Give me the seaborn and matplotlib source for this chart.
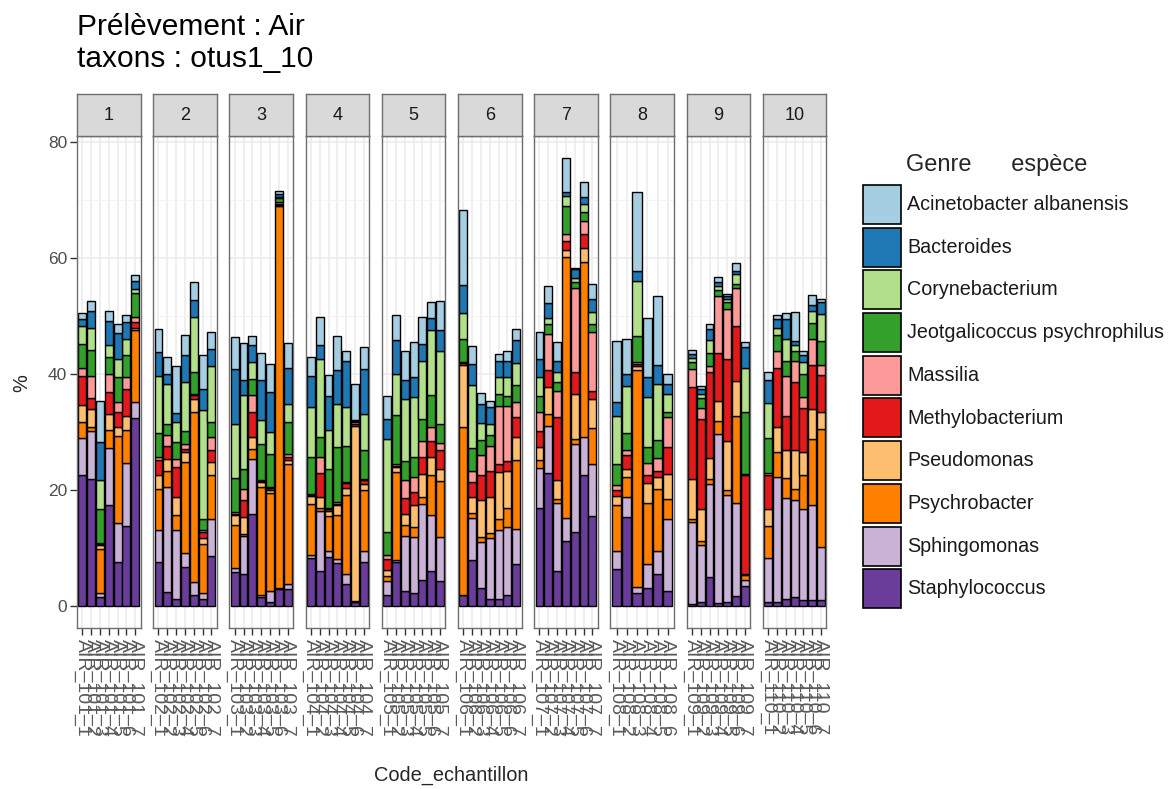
import numpy as np
import pandas as pd
import matplotlib
matplotlib.use("Agg")
import matplotlib.pyplot as plt
from matplotlib.patches import Rectangle
import seaborn as sns

# ---------------- data ----------------
taxa = ["Acinetobacter albanensis", "Bacteroides", "Corynebacterium",
        "Jeotgalicoccus psychrophilus", "Massilia", "Methylobacterium",
        "Pseudomonas", "Psychrobacter", "Sphingomonas", "Staphylococcus"]
colors = ["#A6CEE3", "#1F78B4", "#B2DF8A", "#33A02C", "#FB9A99",
          "#E31A1C", "#FDBF6F", "#FF7F00", "#CAB2D6", "#6A3D9A"]

panels = ["1", "2", "3", "4", "5", "6", "7", "8", "9", "10"]
bars_per_panel = [7, 7, 7, 7, 7, 7, 7, 6, 7, 7]

staphylococcus = [22.6, 21.8, 1.5, 17.3, 7.5, 13.7, 32.4,
                  7.5, 2.4, 1.2, 6.7, 1.8, 1.1, 8.5,
                  5.8, 5.5, 15.9, 1.5, 0.7, 2.8, 2.9,
                  8.2, 5.9, 8.4, 7.4, 3.8, 0.6, 7.5,
                  1.8, 7.5, 2.6, 2.2, 4.5, 5.9, 4.3,
                  1.8, 7.8, 3.0, 1.2, 1.1, 1.9, 7.2,
                  16.8, 22.9, 5.9, 11.1, 12.7, 22.6, 15.5,
                  6.3, 15.3, 2.2, 3.0, 5.5, 2.6,
                  0.3, 0.6, 4.9, 0.5, 0.7, 1.6, 3.4,
                  0.7, 0.6, 1.2, 1.5, 0.9, 0.9, 0.9]
sphingomonas = [6.3, 8.4, 0.6, 9.9, 6.8, 10.9, 2.7,
                5.5, 18.1, 11.8, 2.3, 2.3, 1.0, 6.5,
                0.7, 6.6, 9.4, 0.4, 1.9, 0.2, 0.9,
                0.6, 10.4, 1.0, 0.7, 1.6, 0.1, 1.9,
                2.4, 0.3, 9.5, 9.6, 13.1, 9.7, 7.5,
                0.1, 7.4, 8.0, 10.5, 11.9, 11.7, 6.1,
                6.9, 8.1, 11.8, 4.0, 15.2, 6.5, 9.0,
                3.1, 3.4, 1.1, 4.2, 4.0, 12.4,
                14.2, 9.8, 16.1, 29.2, 18.4, 16.2, 1.0,
                7.5, 21.6, 17.4, 16.7, 15.8, 16.5, 9.2]
psychrobacter = [2.8, 0.6, 7.6, 3.1, 15.0, 5.7, 12.4,
                 7.1, 2.8, 2.6, 15.8, 29.3, 8.6, 7.6,
                 7.5, 0.3, 1.8, 18.6, 16.9, 65.9, 20.7,
                 8.8, 0.5, 6.1, 7.6, 13.7, 0.1, 10.6,
                 0.9, 15.2, 1.9, 1.8, 1.1, 6.9, 9.7,
                 29.0, 0.8, 0.8, 0.8, 1.9, 3.3, 11.9,
                 1.4, 2.0, 0.7, 45.0, 0.8, 30.2, 6.1,
                 7.9, 3.5, 37.3, 10.6, 10.7, 3.4,
                 0.4, 0.7, 0.8, 2.1, 0.9, 14.9, 0.9,
                 5.5, 4.3, 3.4, 1.9, 5.8, 11.4, 20.4]
pseudomonas = [2.9, 3.1, 0.7, 2.8, 1.5, 2.4, 0.4,
               2.4, 2.0, 3.1, 1.8, 2.2, 1.0, 2.2,
               1.6, 2.9, 2.0, 0.8, 0.4, 0.3, 0.6,
               1.3, 1.9, 0.9, 1.6, 1.2, 30.2, 1.0,
               1.0, 0.9, 1.9, 3.7, 4.1, 3.1, 2.1,
               10.7, 2.8, 6.5, 6.2, 8.1, 6.4, 3.9,
               2.3, 4.7, 3.2, 1.2, 7.9, 2.5, 5.0,
               1.7, 1.3, 0.7, 3.4, 2.0, 4.4,
               7.0, 5.6, 3.7, 3.6, 8.5, 6.0, 0.2,
               2.9, 4.4, 4.8, 6.7, 4.0, 5.2, 3.0]
methylobacterium = [5.0, 1.9, 0.3, 3.7, 2.6, 4.7, 1.1,
                    2.6, 2.2, 5.2, 0.4, 0.7, 1.0, 2.0,
                    0.3, 2.9, 4.3, 0.2, 0.4, 0.2, 0.5,
                    0.2, 4.2, 0.3, 0.3, 0.8, 0.3, 0.6,
                    2.0, 0.2, 2.7, 2.3, 2.8, 2.9, 3.2,
                    0.2, 2.5, 4.2, 4.6, 1.5, 1.6, 3.4,
                    2.8, 2.9, 10.9, 1.7, 3.7, 2.3, 1.5,
                    0.9, 2.5, 0.4, 1.4, 1.1, 4.6,
                    15.8, 15.5, 14.9, 8.2, 14.0, 9.6, 17.0,
                    5.9, 10.1, 6.0, 11.8, 7.6, 7.6, 6.3]
massilia = [1.4, 3.8, 0.1, 3.2, 1.7, 2.0, 0.8,
            0.5, 2.0, 1.4, 0.9, 0.3, 0.4, 2.3,
            0.3, 2.0, 2.9, 0.1, 0.2, 0.2, 0.6,
            0.1, 2.8, 0.2, 0.3, 0.3, 0.4, 0.3,
            0.7, 0.3, 3.1, 2.6, 2.9, 2.3, 1.3,
            0.2, 2.0, 3.5, 4.3, 10.0, 9.6, 2.6,
            3.2, 6.3, 4.6, 1.1, 14.6, 2.3, 10.1,
            1.0, 0.8, 0.3, 2.0, 2.2, 5.1,
            3.2, 1.9, 0.9, 9.9, 8.7, 6.5, 0.2,
            0.4, 2.9, 6.8, 3.7, 1.9, 4.5, 1.8]
jeotgalicoccus = [4.2, 4.6, 5.8, 2.9, 4.3, 3.8, 4.1,
                  4.2, 1.9, 3.0, 2.3, 3.7, 1.9, 2.6,
                  5.8, 3.3, 2.8, 6.3, 5.7, 0.7, 5.5,
                  6.4, 3.4, 6.7, 9.5, 6.1, 0.1, 5.0,
                  3.9, 8.5, 3.2, 3.4, 3.7, 5.5, 3.3,
                  4.1, 3.9, 2.6, 1.8, 2.1, 1.6, 3.0,
                  2.7, 1.7, 1.5, 4.9, 1.0, 1.5, 1.4,
                  3.6, 3.0, 4.6, 2.8, 3.1, 1.0,
                  1.1, 1.7, 2.3, 0.9, 1.2, 0.7, 10.8,
                  6.0, 2.8, 2.7, 1.7, 4.0, 2.6, 4.1]
corynebacterium = [3.1, 3.7, 5.0, 2.0, 3.2, 2.8, 0.8,
                   9.9, 6.8, 3.4, 8.4, 9.5, 18.8, 9.6,
                   9.4, 12.8, 2.9, 4.1, 3.7, 0.3, 3.1,
                   8.6, 13.5, 6.7, 7.4, 6.8, 0.1, 6.1,
                   16.0, 7.0, 10.8, 10.4, 10.1, 11.2, 12.5,
                   4.4, 10.9, 2.9, 1.9, 2.8, 3.3, 3.7,
                   3.3, 1.0, 1.8, 1.7, 0.6, 1.4, 2.0,
                   8.3, 8.1, 9.4, 8.6, 9.7, 3.1,
                   0.7, 0.8, 2.3, 0.8, 0.5, 1.7, 7.5,
                   6.1, 1.2, 3.8, 1.0, 2.0, 2.1, 4.6]
bacteroides = [1.2, 3.0, 6.6, 4.3, 4.5, 3.0, 1.4,
               4.0, 1.8, 1.6, 4.6, 3.0, 3.6, 3.0,
               9.5, 2.6, 2.9, 7.0, 6.9, 0.5, 6.2,
               5.5, 2.4, 5.8, 5.8, 8.0, 0.1, 7.8,
               3.5, 5.9, 3.3, 3.4, 2.9, 2.2, 3.7,
               4.9, 3.6, 3.3, 3.0, 2.9, 2.9, 4.1,
               3.2, 2.6, 1.8, 0.7, 1.6, 1.2, 2.3,
               2.4, 2.1, 1.7, 3.4, 3.3, 1.7,
               0.7, 0.8, 1.9, 0.7, 0.6, 0.6, 3.6,
               3.9, 1.5, 3.4, 0.6, 1.2, 1.1, 2.1]
acinetobacter = [1.0, 1.6, 7.1, 1.6, 1.5, 1.1, 1.0,
                 4.1, 2.9, 8.0, 3.5, 3.0, 5.8, 2.9,
                 5.4, 6.4, 1.6, 4.6, 4.9, 0.4, 4.3,
                 3.3, 4.9, 3.7, 5.9, 1.6, 6.2, 3.9,
                 3.9, 4.3, 5.0, 6.1, 4.7, 2.7, 4.9,
                 12.9, 3.1, 1.9, 1.1, 1.1, 1.6, 1.9,
                 4.6, 3.0, 3.3, 5.8, 0.2, 2.7, 2.6,
                 10.4, 6.0, 13.7, 10.2, 11.9, 1.7,
                 0.7, 0.5, 0.8, 0.8, 0.3, 1.3, 0.9,
                 1.5, 0.8, 1.0, 5.1, 0.8, 1.8, 0.5]

values = {
    "Acinetobacter albanensis": acinetobacter,
    "Bacteroides": bacteroides,
    "Corynebacterium": corynebacterium,
    "Jeotgalicoccus psychrophilus": jeotgalicoccus,
    "Massilia": massilia,
    "Methylobacterium": methylobacterium,
    "Pseudomonas": pseudomonas,
    "Psychrobacter": psychrobacter,
    "Sphingomonas": sphingomonas,
    "Staphylococcus": staphylococcus,
}

# sample codes and positions inside each facet
sample_panel, sample_code, sample_pos = [], [], []
for p, n in zip(panels, bars_per_panel):
    for j in range(n):
        sample_panel.append(p)
        sample_code.append(f"AIR_1{int(p):02d}_{j + 1}")
        sample_pos.append(j)

rows = []
for t in taxa:
    for k, v in enumerate(values[t]):
        rows.append((sample_panel[k], sample_code[k], sample_pos[k], t, v))
df = pd.DataFrame(rows, columns=["panel", "sample", "pos", "taxon", "pct"])
palette = dict(zip(taxa, colors))

# ---------------- style ----------------
sns.set_style("white")
plt.rcParams["font.family"] = ["Liberation Sans", "DejaVu Sans"]

W, H = 1170, 789
fig = plt.figure(figsize=(W / 100, H / 100), dpi=100)

left0, pw, pitch = 77, 63.5, 76.2
p_top, p_bot = 136, 628
s_top = 94
frame_col = "#6E6E6E"

totals = df.groupby("sample")["pct"].sum()
ymax = totals.max()
pad = 0.05 * ymax

for i, p in enumerate(panels):
    lx = left0 + i * pitch
    ax = fig.add_axes([lx / W, 1 - p_bot / H, pw / W, (p_bot - p_top) / H])
    sub = df[df["panel"] == p]
    n = bars_per_panel[i]
    ax.set_axisbelow(True)
    sns.histplot(data=sub, x="pos", weights="pct", hue="taxon",
                 hue_order=taxa, palette=palette, multiple="stack",
                 discrete=True, shrink=0.9, edgecolor="black",
                 linewidth=1.0, alpha=1, legend=False, ax=ax)
    ax.set_xlim(-0.6, n - 1 + 0.6)
    ax.set_ylim(-pad, ymax + pad)
    ax.set_yticks([0, 20, 40, 60, 80])
    ax.set_yticks([10, 30, 50, 70], minor=True)
    ax.set_xticks(range(n))
    codes = sub.drop_duplicates("sample").sort_values("pos")["sample"].tolist()
    ax.set_xticklabels(codes, rotation=-90, fontsize=14, color="#5A5A5A")
    ax.grid(which="major", axis="both", color="#EBEBEB", linewidth=1.1)
    ax.grid(which="minor", axis="y", color="#F3F3F3", linewidth=0.6)
    ax.tick_params(axis="x", which="major", length=5, width=1.0,
                   color="#333333", pad=3, bottom=True)
    ax.tick_params(axis="y", which="minor", left=False)
    if i == 0:
        ax.tick_params(axis="y", which="major", length=5, width=1.0,
                       color="#333333", labelsize=12.5,
                       labelcolor="#4D4D4D", pad=2, left=True)
    else:
        ax.tick_params(axis="y", which="both", left=False, labelleft=False)
    for s in ax.spines.values():
        s.set_color(frame_col)
        s.set_linewidth(1.0)
    ax.set_xlabel("")
    ax.set_ylabel("")

    sax = fig.add_axes([lx / W, 1 - p_top / H, pw / W, (p_top - s_top) / H])
    sax.set_facecolor("#D9D9D9")
    sax.set_xticks([])
    sax.set_yticks([])
    for s in sax.spines.values():
        s.set_color(frame_col)
        s.set_linewidth(1.0)
    sax.text(0.5, 0.5, p, ha="center", va="center", fontsize=13,
             color="#1A1A1A", transform=sax.transAxes)

fig.text(77 / W, 1 - 13 / H, "Prélèvement : Air\ntaxons : otus1_10",
         ha="left", va="top", fontsize=21.5, color="black", linespacing=1.2)
fig.text(22 / W, 1 - 383 / H, "%", rotation=90, ha="center", va="center",
         fontsize=14.4)
fig.text(451 / W, 1 - 775 / H, "Code_echantillon", ha="center",
         va="center", fontsize=14.4)

# legend (drawn manually to match key size / spacing)
fig.text(906 / W, 1 - 165 / H, "Genre      espèce", ha="left", va="center",
         fontsize=17)
key_x, key_w, key_h, key_top, key_pitch = 863, 38, 39, 185, 42.7
for k, (t, c) in enumerate(zip(taxa, colors)):
    y0 = key_top + k * key_pitch
    fig.patches.append(Rectangle((key_x / W, 1 - (y0 + key_h) / H),
                                 key_w / W, key_h / H, facecolor=c,
                                 edgecolor="black", linewidth=1.2,
                                 transform=fig.transFigure, figure=fig))
    fig.text(907 / W, 1 - (y0 + key_h / 2) / H, t, ha="left", va="center",
             fontsize=14.2, color="#1A1A1A")

fig.savefig("out.png", dpi=100)
